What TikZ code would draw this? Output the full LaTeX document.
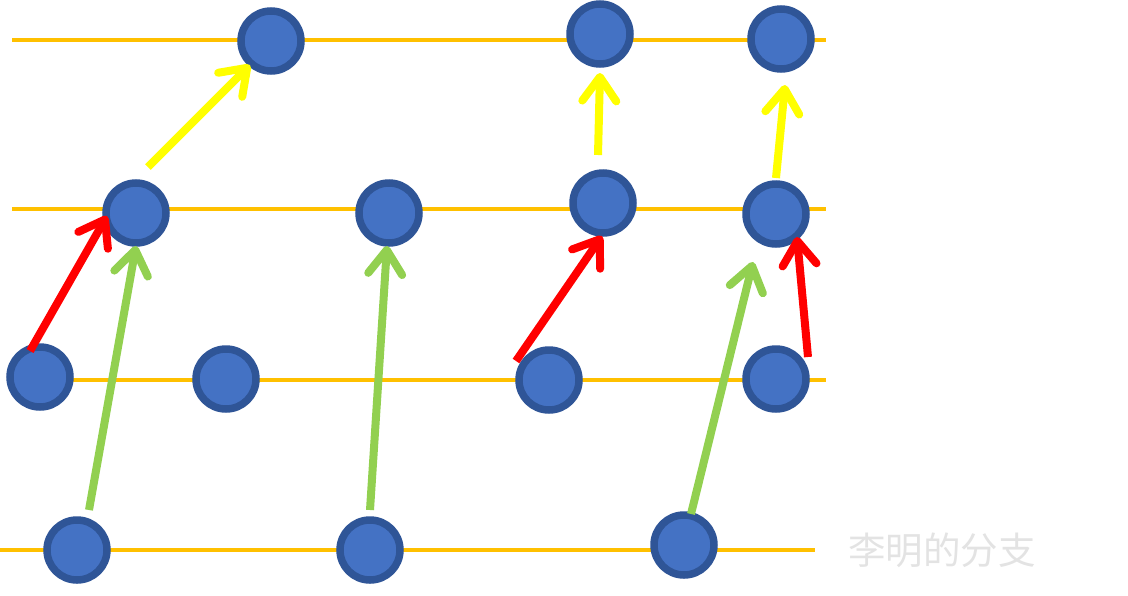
\documentclass[tikz,border=0pt]{standalone}
\usepackage{fontspec}
\newfontfamily\cjk{Noto Sans CJK SC}
\usetikzlibrary{arrows.meta}
\definecolor{lineor}{HTML}{FFC000}
\definecolor{cfill}{HTML}{4472C4}
\definecolor{cdraw}{HTML}{2F5597}
\definecolor{ared}{HTML}{FF0000}
\definecolor{ayel}{HTML}{FFFF00}
\definecolor{agrn}{HTML}{92D050}
\definecolor{lbl}{HTML}{E3E3E3}
\tikzset{
  dot/.style={circle, fill=cfill, draw=cdraw, line width=7.5pt, minimum size=60pt, inner sep=0pt},
  track/.style={draw=lineor, line width=3.2pt},
  arr/.style={line width=8pt, -{Straight Barb[length=24pt,width=34pt,round]}},
}
\begin{document}
\begin{tikzpicture}[x=1pt,y=-1pt]
\useasboundingbox (0,0) rectangle (1128,595);
% tracks
\coordinate (l1a) at (12,40); \coordinate (l1b) at (826,40);
\coordinate (l2a) at (12,209); \coordinate (l2b) at (826,209);
\coordinate (l3a) at (12,380); \coordinate (l3b) at (826,380);
\coordinate (l4a) at (0,550); \coordinate (l4b) at (815,550);
\draw[track] (l1a) -- (l1b);
\draw[track] (l2a) -- (l2b);
\draw[track] (l3a) -- (l3b);
\draw[track] (l4a) -- (l4b);
% nodes
\node[dot] (r1a) at (271,41) {};
\node[dot] (r1b) at (600,34) {};
\node[dot] (r1c) at (781,39) {};
\node[dot] (r2a) at (136,213) {};
\node[dot] (r2b) at (389,213) {};
\node[dot] (r2c) at (603,203) {};
\node[dot] (r2d) at (776,214) {};
\node[dot] (r3a) at (40,377) {};
\node[dot] (r3b) at (226,379) {};
\node[dot] (r3c) at (549,380) {};
\node[dot] (r3d) at (776,379) {};
\node[dot] (r4a) at (77,550) {};
\node[dot] (r4b) at (370,550) {};
\node[dot] (r4c) at (684,545) {};
% arrow endpoints
\coordinate (y1s) at (148,167); \coordinate (y1e) at (250,65);
\coordinate (y2s) at (598,155); \coordinate (y2e) at (600,73);
\coordinate (y3s) at (776,178); \coordinate (y3e) at (785,85);
\coordinate (r1s) at (30,351); \coordinate (r1e) at (107,216);
\coordinate (r2s) at (516,361); \coordinate (r2e) at (602,236);
\coordinate (r3s) at (808,357); \coordinate (r3e) at (797,237);
\coordinate (g1s) at (89,510); \coordinate (g1e) at (136,246);
\coordinate (g2s) at (370,510); \coordinate (g2e) at (387,246);
\coordinate (g3s) at (691,514); \coordinate (g3e) at (753,262);
\draw[arr, ayel] (y1s) -- (y1e);
\draw[arr, ayel] (y2s) -- (y2e);
\draw[arr, ayel] (y3s) -- (y3e);
\draw[arr, ared] (r1s) -- (r1e);
\draw[arr, ared] (r2s) -- (r2e);
\draw[arr, ared] (r3s) -- (r3e);
\draw[arr, agrn] (g1s) -- (g1e);
\draw[arr, agrn] (g2s) -- (g2e);
\draw[arr, agrn] (g3s) -- (g3e);
% label
\node[text=lbl, font=\cjk\fontsize{37.5}{37.5}\selectfont, inner sep=0pt] (lab) at (942,550) {李明的分支};
\end{tikzpicture}
\end{document}
